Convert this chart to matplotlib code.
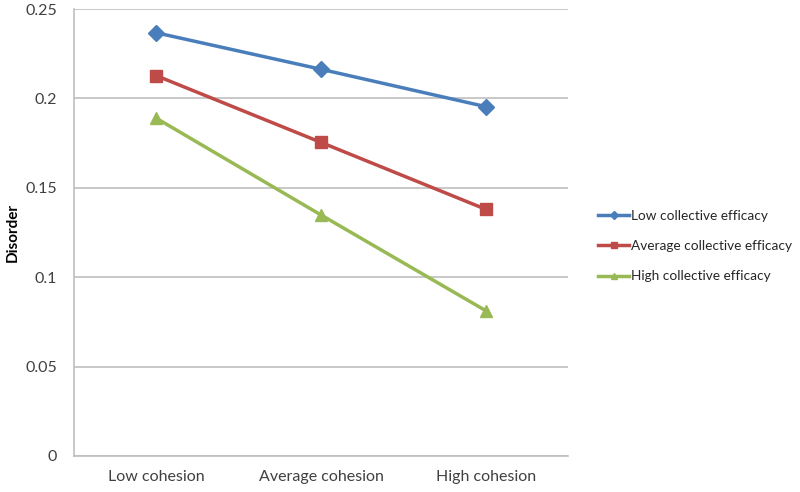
import matplotlib
matplotlib.use("Agg")
import matplotlib.pyplot as plt

# datos
categorias = ["Low cohesion", "Average cohesion", "High cohesion"]
series = ["Low collective efficacy", "Average collective efficacy", "High collective efficacy"]
low_ce = [0.2367, 0.2163, 0.1954]
avg_ce = [0.2127, 0.1754, 0.1380]
high_ce = [0.1889, 0.1348, 0.0813]
yticks = [0, 0.05, 0.1, 0.15, 0.2, 0.25]
ytick_labels = ["0", "0.05", "0.1", "0.15", "0.2", "0.25"]

colores = ["#4A7EBB", "#BE4B48", "#98B954"]
marcadores = ["D", "s", "^"]

plt.rcParams["font.family"] = ["Lato", "DejaVu Sans"]

fig = plt.figure(figsize=(8, 4.92), dpi=100)
ax = fig.add_axes([0.0925, 0.0732, 0.6175, 0.9085])

x = list(range(len(categorias)))
for valores, nombre, c, m in zip([low_ce, avg_ce, high_ce], series, colores, marcadores):
    ax.plot(x, valores, color=c, lw=2.5, marker=m, ms=9 if m != "D" else 8,
            markerfacecolor=c, markeredgecolor=c, label=nombre)

ax.set_xlim(-0.5, len(categorias) - 0.5)
ax.set_ylim(0, 0.25)
ax.set_xticks(x)
ax.set_xticklabels(categorias, fontsize=11.5, color="#404040")
ax.set_yticks(yticks)
ax.set_yticklabels(ytick_labels, fontsize=11.5, color="#404040")
ax.tick_params(length=0, pad=12)
ax.tick_params(axis="x", pad=10)
ax.grid(axis="y", color="#BFBFBF", lw=1.2)
ax.set_axisbelow(True)
for s in ["top", "right"]:
    ax.spines[s].set_visible(False)
for s in ["left", "bottom"]:
    ax.spines[s].set_color("#BFBFBF")
    ax.spines[s].set_linewidth(1.2)

ax.set_ylabel("Disorder", fontsize=11, fontweight="bold")
ax.yaxis.set_label_coords(-0.11, 0.5)

leg = fig.legend(loc="center left", bbox_to_anchor=(0.732, 0.50), frameon=False,
                 fontsize=9.8, handlelength=2.3, markerscale=0.55, labelspacing=1.35,
                 handletextpad=0.15)
for t in leg.get_texts():
    t.set_color("#262626")

fig.savefig("out.png", dpi=100)
